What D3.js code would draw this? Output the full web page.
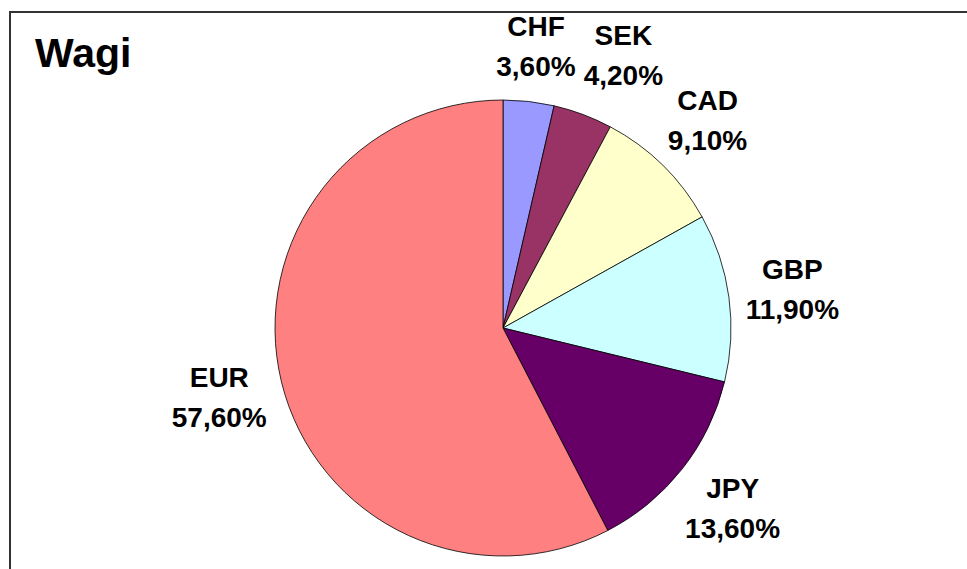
<!DOCTYPE html>
<html>
<head>
<meta charset="utf-8">
<script src="https://cdn.jsdelivr.net/npm/d3@7"></script>
<style>
  body { margin: 0; background: #fff; }
  svg { display: block; }
  text { font-family: "Liberation Sans", Arial, sans-serif; font-weight: bold; fill: #000; }
</style>
</head>
<body>
<div id="chart"></div>
<script>
// currency weights (%)
const currencies = ["CHF", "SEK", "CAD", "GBP", "JPY", "EUR"];
const weights = [3.6, 4.2, 9.1, 11.9, 13.6, 57.6];
const sliceColors = ["#9999FF", "#993366", "#FFFFCC", "#CCFFFF", "#660066", "#FF8080"];
const title = "Wagi";

let width = 967, height = 569;
let cx = 503, cy = 328, radius = 228;
let labelRadius = 292;
let frameTop = 12;

let svg = d3.select('#chart')
  .append('svg')
  .attr('width', width)
  .attr('height', height);

// chart frame (runs off the right and bottom edges)
svg.append('rect')
  .attr('x', 10)
  .attr('y', frameTop)
  .attr('width', width + 20)
  .attr('height', height + 20)
  .attr('fill', 'none')
  .attr('stroke', '#333')
  .attr('stroke-width', 2);

svg.append('text')
  .attr('x', 35)
  .attr('y', 67)
  .style('font-size', '41px')
  .text(title);

let data = currencies.map((c, i) => ({ name: c, value: weights[i], color: sliceColors[i] }));

let pie = d3.pie()
  .sort(null)
  .value(d => d.value);

let arcs = pie(data);

let arc = d3.arc()
  .innerRadius(0)
  .outerRadius(radius);

let labelArc = d3.arc()
  .innerRadius(labelRadius)
  .outerRadius(labelRadius);

let g = svg.append('g')
  .attr('transform', "translate(" + cx + "," + cy + ")");

g.selectAll('path.slice')
  .data(arcs)
  .enter().append('path')
  .attr('class', 'slice')
  .attr('d', arc)
  .attr('fill', d => d.data.color)
  .attr('stroke', '#000')
  .attr('stroke-width', 0.8);

function fmt(v) {
  return v.toFixed(2).replace('.', ',') + '%';
}

let labels = g.selectAll('g.label')
  .data(arcs)
  .enter().append('g')
  .attr('class', 'label');

labels.append('text')
  .attr('text-anchor', 'middle')
  .attr('y', -10)
  .style('font-size', '28px')
  .text(d => d.data.name);

labels.append('text')
  .attr('text-anchor', 'middle')
  .attr('y', 30)
  .style('font-size', '28px')
  .text(d => fmt(d.data.value));

// place labels at the centroid, keep them inside the frame,
// nudge to the right when they collide
let boxes = [];
labels.each(function(d) {
  let p = labelArc.centroid(d);
  let w = 0;
  d3.select(this).selectAll('text').each(function() {
    w = Math.max(w, this.getComputedTextLength());
  });
  let box = { x: p[0], y: p[1], w: w, h: 60 };
  let minY = frameTop + 4 + box.h / 2 - cy;
  if (box.y < minY) box.y = minY;
  let prev = boxes[boxes.length - 1];
  if (prev && box.x > 0) {
    let overlapX = (prev.x + prev.w / 2 + 8) - (box.x - box.w / 2);
    let overlapY = Math.abs(prev.y - box.y) < (prev.h + box.h) / 2;
    if (overlapX > 0 && overlapY) box.x += overlapX;
  }
  boxes.push(box);
  d3.select(this).attr('transform', "translate(" + box.x + "," + box.y + ")");
});
</script>
</body>
</html>
